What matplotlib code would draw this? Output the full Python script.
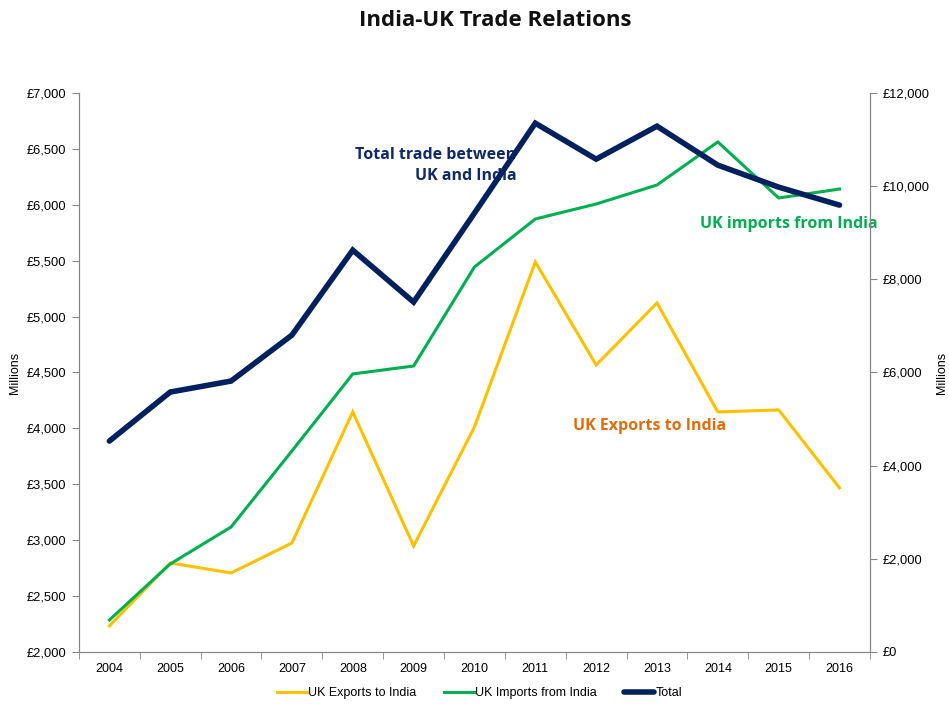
import matplotlib
matplotlib.use("Agg")
import matplotlib.pyplot as plt
from matplotlib.ticker import FuncFormatter, FixedLocator

# Data (GBP millions)
years = ["2004", "2005", "2006", "2007", "2008", "2009", "2010",
         "2011", "2012", "2013", "2014", "2015", "2016"]
uk_exports = [2233, 2796, 2707, 2975, 4147, 2948, 4013, 5489, 4567, 5122, 4147, 4165, 3467]
uk_imports = [2286, 2787, 3118, 3798, 4487, 4558, 5444, 5873, 6007, 6177, 6562, 6061, 6141]
total = [4528, 5580, 5816, 6803, 8627, 7511, 9421, 11352, 10580, 11288, 10451, 9979, 9593]

YELLOW = "#FFC000"
GREEN = "#00B050"
NAVY = "#002060"
ORANGE = "#E46C0A"
AXIS_GREY = "#868686"

plt.rcParams["font.family"] = ["Liberation Sans", "DejaVu Sans"]

fig = plt.figure(figsize=(9.49, 7.04), dpi=100)
ax = fig.add_axes([0.0832, 0.0739, 0.9167 - 0.0832, 0.8679 - 0.0739])
ax2 = ax.twinx()

x = list(range(len(years)))
l1, = ax.plot(x, uk_exports, color=YELLOW, lw=2.2, solid_joinstyle="miter", label="UK Exports to India")
l2, = ax.plot(x, uk_imports, color=GREEN, lw=2.2, solid_joinstyle="miter", label="UK Imports from India")
l3, = ax2.plot(x, total, color=NAVY, lw=4.0, solid_capstyle="round", solid_joinstyle="miter", label="Total")

# axes limits / ticks
ax.set_xlim(-0.5, len(years) - 0.5)
ax.set_ylim(2000, 7000)
ax2.set_ylim(0, 12000)
ax.set_yticks(range(2000, 7001, 500))
ax2.set_yticks(range(0, 12001, 2000))
ax.yaxis.set_major_formatter(FuncFormatter(lambda v, p: "£{:,.0f}".format(v)))
ax2.yaxis.set_major_formatter(FuncFormatter(lambda v, p: "£{:,.0f}".format(v)))

ax.set_xticks(x)
ax.set_xticklabels(years)
ax.xaxis.set_minor_locator(FixedLocator([i - 0.5 for i in range(len(years) + 1)]))
ax.tick_params(axis="x", which="major", length=0, pad=8, labelsize=9)
ax.tick_params(axis="x", which="minor", length=5, color=AXIS_GREY)
ax.tick_params(axis="y", length=5, color=AXIS_GREY, labelsize=9.3, pad=4)
ax2.tick_params(axis="y", length=5, color=AXIS_GREY, labelsize=9.3, pad=4)

for a in (ax, ax2):
    a.spines["top"].set_visible(False)
    for s in ("left", "right", "bottom"):
        a.spines[s].set_color(AXIS_GREY)

ax.set_ylabel("Millions", fontsize=9)
ax.yaxis.set_label_coords(-0.0733, 0.5)
ax2.set_ylabel("Millions", fontsize=9, rotation=90)
ax2.yaxis.set_label_coords(1.0835, 0.5)

# title
fig.text(0.522, 0.971, "India-UK Trade Relations", ha="center", va="center",
         fontsize=16, fontweight="bold", family="Open Sans", color="#111111")

# in-chart annotations
ax.text(0.553, 0.870, "Total trade between\nUK and India", transform=ax.transAxes,
        ha="right", va="center", fontsize=11.5, fontweight="bold", family="Open Sans",
        color="#0F2A6B", linespacing=1.4)
ax.text(0.624, 0.405, "UK Exports to India", transform=ax.transAxes,
        ha="left", va="center", fontsize=11.5, fontweight="bold", family="Open Sans",
        color=ORANGE)
ax.text(0.785, 0.766, "UK imports from India", transform=ax.transAxes,
        ha="left", va="center", fontsize=11.5, fontweight="bold", family="Open Sans",
        color=GREEN)

fig.legend(handles=[l1, l2, l3], loc="center", bbox_to_anchor=(0.505, 0.015),
           ncol=3, frameon=False, fontsize=9, handlelength=2.4, handletextpad=0.1,
           columnspacing=2.2)

fig.savefig("out.png", dpi=100)
